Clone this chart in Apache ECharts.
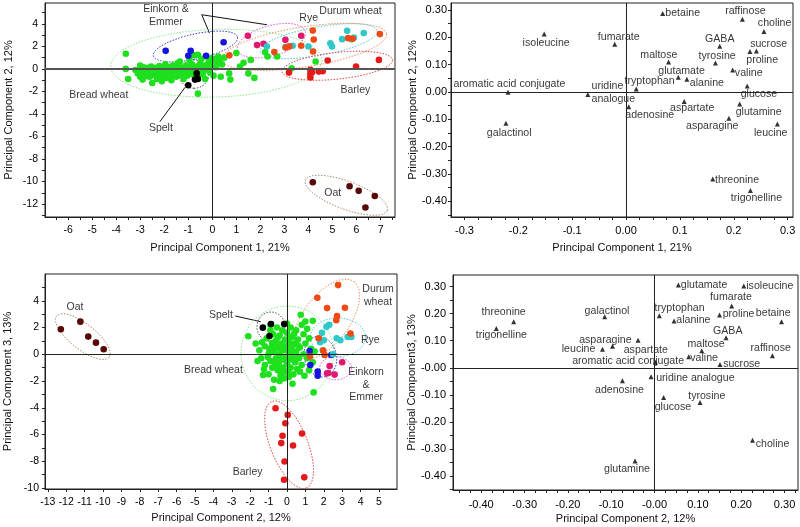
<!DOCTYPE html>
<html><head><meta charset="utf-8">
<script src="https://cdn.jsdelivr.net/npm/echarts@6/dist/echarts.min.js"></script>
<style>html,body{margin:0;padding:0;background:#fff}#c{width:800px;height:527px}</style>
</head><body><div id="c"></div>
<script>
// ---------- Scores: PC1 (x) vs PC2 (y) ----------
const breadTL = [
[-3.6,1.35],[-3.6,0.0],[-3.5,-0.9],[-3.0,0.3],[-2.95,-0.25],[-2.9,-0.95],[-2.85,-0.5],[-2.75,0.05],[-2.7,-0.3],[-2.6,-0.7],[-2.55,0.2],[-2.5,-1.25],[-2.45,-0.1],[-2.4,-0.55],[-2.35,0.1],[-2.3,-0.9],[-2.25,-0.3],[-2.2,0.25],[-2.15,-0.6],[-2.1,-1.1],[-2.05,0.0],[-2.0,-0.4],[-1.95,0.4],[-1.9,-0.8],[-1.85,-0.15],[-1.8,0.15],[-1.75,-0.55],[-1.7,-1.0],[-1.65,0.3],[-1.6,-0.3],[-1.55,0.0],[-1.5,-0.7],[-1.45,0.5],[-1.4,-0.2],[-1.35,0.65],[-1.3,-0.5],[-1.25,0.1],[-1.2,-0.9],[-1.15,-0.3],[-1.1,0.3],[-1.05,-0.6],[-1.0,0.0],[-0.95,0.8],[-0.9,-0.4],[-0.85,0.4],[-0.8,-0.1],[-0.75,1.2],[-0.7,0.2],[-0.65,-0.7],[-0.6,1.25],[-0.6,-2.2],[-0.55,-0.2],[-0.5,0.5],[-0.45,0.9],[-0.4,-0.5],[-0.35,0.2],[-0.3,-0.9],[-0.25,1.1],[-0.2,0.0],[-0.15,0.6],[-0.1,-0.3],[-0.05,0.9],[0.0,0.3],[0.05,-0.6],[0.1,0.9],[0.2,0.5],[0.25,1.1],[0.35,-0.7],[0.4,0.4],[0.5,1.0],[0.7,-0.4],[0.75,-0.95],[1.0,1.4],[1.15,0.2],[1.3,0.55],[1.5,-0.4],[1.6,0.8],[1.75,-0.8],[2.2,1.5],[2.3,1.1],[2.7,1.1],[3.3,0.05],[4.3,0.65],
[-3.2,-0.1],[-3.1,-0.4],[-2.8,-0.15],[-2.65,0.1],[-2.6,-0.45],[-2.4,-0.25],[-2.3,0.05],[-2.2,-0.45],[-2.1,-0.2],[-2.0,0.1],[-1.95,-0.6],[-1.9,-0.3],[-1.8,-0.45],[-1.75,0.05],[-1.7,-0.2],[-1.6,0.15],[-1.55,-0.5],[-1.5,-0.15],[-1.45,-0.35],[-1.4,0.2],[-1.3,-0.1],[-1.2,-0.2],[-1.1,-0.45],[-1.05,0.15],[-0.95,-0.2],[-0.9,0.1],[-0.8,-0.5],[-0.7,-0.25],[-0.6,0.05],[-0.5,-0.35],[-0.45,0.15],[-0.35,-0.15],[-0.25,0.35],[-0.1,0.2],[0.0,0.6],[0.15,0.15],[0.3,0.75],[-2.7,-0.65],[-3.0,-0.7],[-2.85,0.15]
];
const speltTL   = [[-1.0,-1.45],[-0.72,-0.95],[-0.6,-0.9],[-0.65,-0.4]];
const einkornTL = [[-1.94,1.6],[-0.9,1.6],[-1.0,1.16],[-0.26,1.16],[0.47,2.37]];
const emmerTL   = [[1.48,2.94],[1.86,2.11],[2.13,2.23],[3.04,2.58],[3.7,2.94]];
const ryeTL     = [[2.27,1.99],[3.04,1.93],[3.34,2.05],[4.0,1.99],[4.91,2.28],[4.98,1.99],[5.4,2.64],[5.61,3.38],[5.89,2.79],[6.3,3.18],[5.79,2.64]];
const durumTL   = [[0.71,1.2],[2.58,1.5],[3.06,1.9],[3.2,2.0],[3.7,2.05],[4.19,1.55],[4.22,2.6],[4.18,3.4],[5.65,2.73],[5.84,2.67],[6.97,3.09]];
const barleyTL  = [[3.19,-0.33],[4.08,-0.09],[4.08,-0.45],[4.08,-0.77],[4.43,-0.24],[4.59,-0.2],[4.8,0.74],[5.98,0.21],[6.93,0.8],[4.15,-0.3]];
const oatTL     = [[4.18,-10.06],[5.71,-10.42],[6.09,-10.83],[6.76,-11.28],[6.37,-12.31]];

// ---------- Scores: PC2 (x) vs PC3 (y) ----------
const breadBL = [
[-2.1,1.35],[-1.3,-1.55],[-0.75,-2.6],[1.45,-2.85],[0.75,2.95],[1.0,2.45],[1.4,2.5],[-1.5,0.3],[-1.4,-0.3],[-1.2,0.6],[-1.2,-0.8],[-1.1,1.2],[-1.0,-1.5],[-1.0,0.0],[-0.9,1.8],[-0.9,-0.5],[-0.85,0.5],[-0.8,-1.0],[-0.75,1.5],[-0.7,0.2],[-0.7,-1.9],[-0.6,-0.3],[-0.6,1.0],[-0.55,2.0],[-0.5,-1.2],[-0.5,0.5],[-0.45,-0.7],[-0.4,1.4],[-0.4,0.0],[-0.35,-1.6],[-0.3,0.8],[-0.3,-0.4],[-0.25,1.8],[-0.2,-1.0],[-0.2,0.3],[-0.15,-1.8],[-0.1,1.1],[-0.1,-0.2],[-0.05,0.6],[0.0,-0.7],[0.0,1.6],[0.05,-1.3],[0.1,0.1],[0.1,0.9],[0.15,-0.4],[0.2,2.0],[0.2,-1.0],[0.25,0.5],[0.3,1.3],[0.3,-0.2],[0.35,-1.5],[0.4,0.8],[0.45,-0.6],[0.5,1.8],[0.5,0.2],[0.55,-1.1],[0.6,1.1],[0.65,-0.3],[0.7,0.5],[0.8,2.2],[0.8,-0.8],[0.9,1.5],[0.9,0.0],[1.0,0.8],[1.1,-0.3],[1.2,1.2],[1.3,0.4],[1.4,-0.6],[-1.6,-0.5],[-1.35,0.9],[-0.95,0.3],[-0.65,-0.6],[-0.35,0.35],[-0.05,-0.45],[0.25,0.7],[0.55,-0.15],[-0.8,0.85],[-0.5,1.25],[-0.2,-1.35],[0.1,-1.7],[0.4,1.55],[0.7,-1.3],[-1.05,-0.2],[-0.55,-0.95],[0.05,0.35],[0.35,0.05],[-0.25,0.55],[0.15,1.3],[-0.6,0.6],[0.6,0.65],[-1.25,-1.1],[0.95,-1.6],[1.5,0.2],[-0.9,2.2],[0.0,2.3],[-0.4,-2.0],[0.3,-2.2],[1.2,-1.2],[1.1,1.9],[-1.7,0.8]
];
const speltBL   = [[-1.31,1.99],[-0.87,2.26],[-0.15,2.26],[-0.95,1.37]];
const einkornBL = [[1.23,0.25],[1.27,-0.8],[1.67,-1.3],[1.67,-1.6],[2.41,-0.05]];
const emmerBL   = [[2.32,-0.88],[2.18,-1.42],[2.59,-1.52],[3.0,-0.6],[2.25,-1.4]];
const ryeBL     = [[1.9,1.6],[2.15,2.05],[2.3,2.2],[2.0,1.05],[1.95,0.3],[2.7,1.2],[2.9,1.05],[3.3,1.3],[3.5,1.3],[2.5,0.0],[1.8,0.9]];
const durumBL   = [[2.78,5.17],[1.65,4.23],[2.18,3.45],[3.15,3.48],[2.72,2.85],[2.68,2.55],[3.45,1.55],[1.72,1.2],[1.97,0.28],[1.25,-0.17],[2.05,-0.05]];
const barleyBL  = [[-0.62,-4.03],[0.04,-4.53],[-0.09,-5.15],[-0.24,-6.09],[-0.31,-6.64],[0.82,-5.92],[0.33,-6.82],[-0.13,-8.01],[-0.16,-9.38],[0.94,-9.2]];
const oatBL     = [[-12.29,1.87],[-11.23,2.44],[-10.8,1.32],[-10.38,0.87],[-9.96,0.37]];

// ---------- Group ellipses: major-axis end points (x1,y1,x2,y2) and minor/major ratio ----------
const groupNames = ['bread','spelt','einkorn','emmer','rye','durum','barley','oat'];
const ellipsesTL = [[-4.23,0.21,4.56,0.8,0.32],[-0.76,0.8,-0.76,-1.72,1.05],[-2.45,1.16,1.05,2.82,0.29],[1.05,1.69,3.87,3.32,0.43],[1.99,1.54,6.86,3.38,0.24],[0.4,0.8,7.25,3.1,0.24],[2.9,-0.24,7.5,0.8,0.24],[3.87,-9.88,7.28,-12.56,0.32]];
const ellipsesBL = [[-2.5,0.07,2.54,0.07,1.02],[-1.63,2.06,-0.11,2.06,1.05],[1.54,1.31,2.09,-1.67,0.78],[1.78,-1.04,3.5,-1.04,0.73],[1.27,1.27,4.26,1.27,0.7],[0.63,-0.18,3.63,5.43,0.5],[-0.82,-3.53,1.05,-10.0,0.4],[-12.52,2.86,-9.67,-0.22,0.38]];

// ---------- Group annotations ----------
const notesTL = [['Einkorn &\nEmmer',-1.93,4.72],['Rye',4.01,4.51],['Durum wheat',5.75,5.1],['Bread wheat',-4.72,-2.32],['Barley',5.95,-1.87],['Spelt',-2.14,-5.28],['Oat',5.01,-11.07]];
const leadersTL = [[[-0.12,3.18],[-0.44,4.81],[2.27,3.92]],[[-2.18,-4.69],[-1.13,-1.63]]];
const notesBL = [['Oat',-11.52,3.55],['Spelt',-3.59,2.93],['Bread wheat',-4.0,-1.17],['Durum\nwheat',4.95,4.39],['Rye',4.53,1.07],['Einkorn\n&\nEmmer',4.3,-2.27],['Barley',-2.14,-8.84]];
const leadersBL = [[[-2.81,2.86],[-1.42,2.43]]];

// ---------- Loadings ----------
const loadTR = [['betaine',0.068,0.287],['raffinose',0.216,0.266],['choline',0.256,0.221],['isoleucine',-0.152,0.212],['fumarate',-0.021,0.174],['GABA',0.174,0.167],['sucrose',0.242,0.150],['proline',0.230,0.148],['maltose',0.079,0.109],['tyrosine',0.166,0.106],['valine',0.198,0.080],['glutamate',0.097,0.054],['alanine',0.113,0.046],['tryptophan',0.019,0.011],['aromatic acid conjugate',-0.219,-0.001],['uridine\nanalogue',-0.071,-0.009],['glucose',0.225,0.022],['aspartate',0.108,-0.035],['adenosine',0.005,-0.054],['glutamine',0.211,-0.044],['asparagine',0.191,-0.096],['leucine',0.281,-0.117],['galactinol',-0.223,-0.114],['threonine',0.161,-0.318],['trigonelline',0.231,-0.360]];
const loadBR = [['glutamate',0.055,0.306],['isoleucine',0.206,0.302],['fumarate',0.178,0.228],['threonine',-0.325,0.170],['galactinol',-0.115,0.189],['tryptophan',0.011,0.192],['proline',0.150,0.195],['alanine',0.045,0.173],['betaine',0.293,0.170],['trigonelline',-0.365,0.145],['GABA',0.165,0.111],['asparagine',-0.038,0.102],['leucine',-0.120,0.068],['aspartate',-0.097,0.080],['maltose',0.109,0.063],['raffinose',0.272,0.044],['valine',0.079,0.041],['aromatic acid conjugate',0.002,0.020],['sucrose',0.151,0.012],['uridine analogue',-0.008,-0.033],['adenosine',-0.074,-0.048],['glucose',0.021,-0.110],['tyrosine',0.105,-0.128],['choline',0.226,-0.268],['glutamine',-0.045,-0.345]];

// ---------- Ticks and tick labels ----------
const ticksX0 = [-6.5,-6,-5.5,-5,-4.5,-4,-3.5,-3,-2.5,-2,-1.5,-1,-0.5,0,0.5,1,1.5,2,2.5,3,3.5,4,4.5,5,5.5,6,6.5,7,7.5];
const labelsX0 = [-6,-5,-4,-3,-2,-1,0,1,2,3,4,5,6,7];
const ticksY0 = [-13,-12,-11,-10,-9,-8,-7,-6,-5,-4,-3,-2,-1,0,1,2,3,4,5];
const labelsY0 = [-12,-10,-8,-6,-4,-2,0,2,4];
const ticksX1 = [-0.3,-0.275,-0.25,-0.225,-0.2,-0.175,-0.15,-0.125,-0.1,-0.075,-0.05,-0.025,0,0.025,0.05,0.075,0.1,0.125,0.15,0.175,0.2,0.225,0.25,0.275,0.3];
const labelsX1 = [-0.3,-0.2,-0.1,0,0.1,0.2,0.3];
const ticksY1 = [-0.45,-0.4,-0.35,-0.3,-0.25,-0.2,-0.15,-0.1,-0.05,0,0.05,0.1,0.15,0.2,0.25,0.3];
const labelsY1 = [-0.4,-0.3,-0.2,-0.1,0,0.1,0.2,0.3];
const ticksX2 = [-13,-12,-11,-10,-9,-8,-7,-6,-5,-4,-3,-2,-1,0,1,2,3,4,5];
const labelsX2 = [-13,-12,-11,-10,-9,-8,-7,-6,-5,-4,-3,-2,-1,0,1,2,3,4,5];
const ticksY2 = [-10,-9,-8,-7,-6,-5,-4,-3,-2,-1,0,1,2,3,4,5];
const labelsY2 = [-10,-8,-6,-4,-2,0,2,4];
const ticksX3 = [-0.45,-0.425,-0.4,-0.375,-0.35,-0.325,-0.3,-0.275,-0.25,-0.225,-0.2,-0.175,-0.15,-0.125,-0.1,-0.075,-0.05,-0.025,0,0.025,0.05,0.075,0.1,0.125,0.15,0.175,0.2,0.225,0.25,0.275,0.3,0.325];
const labelsX3 = [-0.4,-0.3,-0.2,-0.1,0,0.1,0.2,0.3];
const ticksY3 = [-0.45,-0.4,-0.35,-0.3,-0.25,-0.2,-0.15,-0.1,-0.05,0,0.05,0.1,0.15,0.2,0.25,0.3];
const labelsY3 = [-0.4,-0.3,-0.2,-0.1,0,0.1,0.2,0.3];

// ---------- Styles ----------
const FONT = '"Liberation Sans", Arial, sans-serif';
const pointColors = {bread:'#1ee01e', spelt:'#000000', einkorn:'#1414dc', emmer:'#e0186e', rye:'#2ec8c8', durum:'#f04a14', barley:'#e41a1a', oat:'#580808'};
const ellipseColors = {bread:'#8ce88c', spelt:'#444444', einkorn:'#3232c8', emmer:'#e050e0', rye:'#50c8d8', durum:'#f0905a', barley:'#e04040', oat:'#b08868'};

const offTR = {betaine:[20,0],raffinose:[3,-8.5],choline:[10.7,-8],isoleucine:[2,9],fumarate:[4,-7.7],GABA:[0,-6.7],sucrose:[12.3,-6.7],proline:[12.3,8.7],maltose:[-9.7,-7.3],tyrosine:[1.7,-7.3],valine:[16,3],glutamate:[3.3,-6],alanine:[20,3.7],tryptophan:[13.3,-8.3],'aromatic acid conjugate':[1.3,-7.7],'uridine\nanalogue':[3.7,-1.7,'left'],glucose:[11.7,8.3],aspartate:[8,6.3],adenosine:[21,8],glutamine:[19,7.7],asparagine:[-16.7,8],leucine:[-6.7,9],galactinol:[3.3,9.7],threonine:[24.3,1],trigonelline:[6,7.7]};
const offBR = {glutamate:[25.7,0],isoleucine:[26,0],fumarate:[-0.7,-8.7],threonine:[-10,-9.3],galactinol:[2.3,-6],tryptophan:[20.3,-8],proline:[19,-0.7],alanine:[19.3,-0.7],betaine:[-8.3,-8.3],trigonelline:[5,6.7],GABA:[1.7,-7],asparagine:[-32.7,0],leucine:[-24,0],aspartate:[33.3,4],maltose:[4.3,-6.7],raffinose:[-1.7,-8],valine:[15.3,1],'aromatic acid conjugate':[-27.3,-1],sucrose:[21.7,0],'uridine analogue':[44.3,1.7],adenosine:[-3,9.3],glucose:[9.3,9.3],tyrosine:[6.7,-6.7],choline:[20,4],glutamine:[-8,8.3]};

function axis(kind, gi, min, max, ticks, labels, fmt, name, gap, margin, fs) {
  return {type:'value', gridIndex:gi, min:min, max:max, position: kind==='x'?'bottom':'left',
    name:name, nameLocation:'middle', nameGap:gap,
    nameTextStyle:{color:'#111', fontSize:11, fontFamily:FONT},
    axisLine:{show:true, onZero:false, lineStyle:{color:'#222', width:1}},
    axisTick:{show:true, inside:false, length:3, customValues:ticks, lineStyle:{color:'#222', width:1}},
    axisLabel:{show:true, customValues:labels, formatter:fmt, margin:margin, color:'#000', fontSize:fs, fontFamily:FONT},
    splitLine:{show:false}, minorTick:{show:false}};
}
const fInt = v => String(Math.round(v));
const f1z = v => Math.abs(v) < 1e-9 ? '0.00' : v.toFixed(1);
const f2 = v => Math.abs(v) < 1e-9 ? '0.00' : v.toFixed(2);
const f2neg = v => Math.abs(v) < 1e-9 ? '-0.00' : v.toFixed(2);

function scatter(gi, data, color) {
  return {type:'scatter', xAxisIndex:gi, yAxisIndex:gi, data:data, symbol:'circle', symbolSize:6.6,
    itemStyle:{color:color, opacity:1}, z:4, silent:true, clip:true};
}
function ellipseSeries(gi, list) {
  return {type:'custom', xAxisIndex:gi, yAxisIndex:gi, coordinateSystem:'cartesian2d', clip:true, silent:true, z:3,
    data:list.map(e => e.slice()),
    renderItem:function(params, api){
      const p1 = api.coord([api.value(0), api.value(1)]);
      const p2 = api.coord([api.value(2), api.value(3)]);
      const cx=(p1[0]+p2[0])/2, cy=(p1[1]+p2[1])/2;
      const dx=(p2[0]-p1[0])/2, dy=(p2[1]-p1[1])/2;
      const a=Math.hypot(dx,dy), b=a*api.value(4);
      const ux=dx/a, uy=dy/a, vx=-uy, vy=ux;
      const pts=[];
      for (let i=0;i<96;i++){ const t=i/96*2*Math.PI;
        pts.push([cx+a*Math.cos(t)*ux+b*Math.sin(t)*vx, cy+a*Math.cos(t)*uy+b*Math.sin(t)*vy]); }
      return {type:'polygon', shape:{points:pts}, style:{fill:'none', stroke:ellipseColors[groupNames[params.dataIndex]], lineWidth:1, lineDash:[1.5,1.5]}};
    }};
}
function zeroLines(hw, hc) {
  return {silent:true, symbol:'none', animation:false, label:{show:false},
    lineStyle:{color:'#222', width:1, type:'solid'},
    data:[{xAxis:0},{yAxis:0, lineStyle:{color:hc||'#222', width:hw||1, type:'solid'}}]};
}
function notesSeries(gi, notes, hw, hc) {
  return {type:'scatter', xAxisIndex:gi, yAxisIndex:gi, symbolSize:1, silent:true, z:2,
    itemStyle:{color:'rgba(0,0,0,0)'},
    data:notes.map(n => ({value:[n[1],n[2]], label:{show:true, position:'inside', formatter:n[0], align:'center', verticalAlign:'middle', color:'#000', fontSize:10.5, fontFamily:FONT, lineHeight:12.5}})),
    markLine:zeroLines(hw, hc)};
}
function leaderSeries(gi, pts) {
  return {type:'line', xAxisIndex:gi, yAxisIndex:gi, data:pts, symbol:'none', silent:true, z:2,
    lineStyle:{color:'#111', width:1}};
}
function loadSeries(gi, arr, offs) {
  return {type:'scatter', xAxisIndex:gi, yAxisIndex:gi, symbol:'triangle', symbolSize:5, silent:true, z:4,
    itemStyle:{color:'#000'},
    data:arr.map(d => { const o = offs[d[0]] || [0,8];
      return {value:[d[1],d[2]], label:{show:true, position:'inside', offset:[o[0],o[1]], formatter:d[0], align:o[2]||'center', verticalAlign:'middle', color:'#000', fontSize:10.6, fontFamily:FONT, lineHeight:12.7}}; }),
    markLine:zeroLines(1,'#222')};
}

const groupsTL = {bread:breadTL, spelt:speltTL, einkorn:einkornTL, emmer:emmerTL, rye:ryeTL, durum:durumTL, barley:barleyTL, oat:oatTL};
const groupsBL = {bread:breadBL, spelt:speltBL, einkorn:einkornBL, emmer:emmerBL, rye:ryeBL, durum:durumBL, barley:barleyBL, oat:oatBL};

const series = [];
series.push(notesSeries(0, notesTL, 2, '#555'));
leadersTL.forEach(l => series.push(leaderSeries(0, l)));
series.push(ellipseSeries(0, ellipsesTL));
groupNames.forEach(g => series.push(scatter(0, groupsTL[g], pointColors[g])));
series.push(loadSeries(1, loadTR, offTR));
series.push(notesSeries(2, notesBL, 1, '#222'));
leadersBL.forEach(l => series.push(leaderSeries(2, l)));
series.push(ellipseSeries(2, ellipsesBL));
groupNames.forEach(g => series.push(scatter(2, groupsBL[g], pointColors[g])));
series.push(loadSeries(3, loadBR, offBR));

const gridStyle = {show:true, borderColor:'#222', borderWidth:1, backgroundColor:'transparent', containLabel:false};
const option = {
  animation:false,
  backgroundColor:'#fff',
  textStyle:{fontFamily:FONT},
  grid:[
    Object.assign({left:45, top:3, width:350, height:214}, gridStyle),
    Object.assign({left:451, top:3, width:342, height:214}, gridStyle),
    Object.assign({left:45, top:274, width:352, height:215}, gridStyle),
    Object.assign({left:453, top:275, width:345, height:215}, gridStyle)
  ],
  xAxis:[
    axis('x',0,-6.96,7.6,ticksX0,labelsX0,fInt,'Principal Component 1, 21%',25,8,10.5),
    axis('x',1,-0.325,0.31,ticksX1,labelsX1,f1z,'Principal Component 1, 21%',25,8,11),
    axis('x',2,-13.15,5.98,ticksX2,labelsX2,fInt,'Principal Component 2, 12%',23,8,10.5),
    axis('x',3,-0.465,0.331,ticksX3,labelsX3,f2neg,'Principal Component 2, 12%',23,9,11)
  ],
  yAxis:[
    axis('y',0,-13.15,5.85,ticksY0,labelsY0,fInt,'Principal Component 2, 12%',31,7,10.5),
    axis('y',1,-0.457,0.325,ticksY1,labelsY1,f2,'Principal Component 2, 12%',21,4,11),
    axis('y',2,-10.07,6.0,ticksY2,labelsY2,fInt,'Principal Component 3, 13%',32,6,10.5),
    axis('y',3,-0.452,0.343,ticksY3,labelsY3,f2neg,'Principal Component3, 13%',22,7,11)
  ],
  series:series
};
const chart = echarts.init(document.getElementById('c'));
chart.setOption(option);
</script></body></html>
